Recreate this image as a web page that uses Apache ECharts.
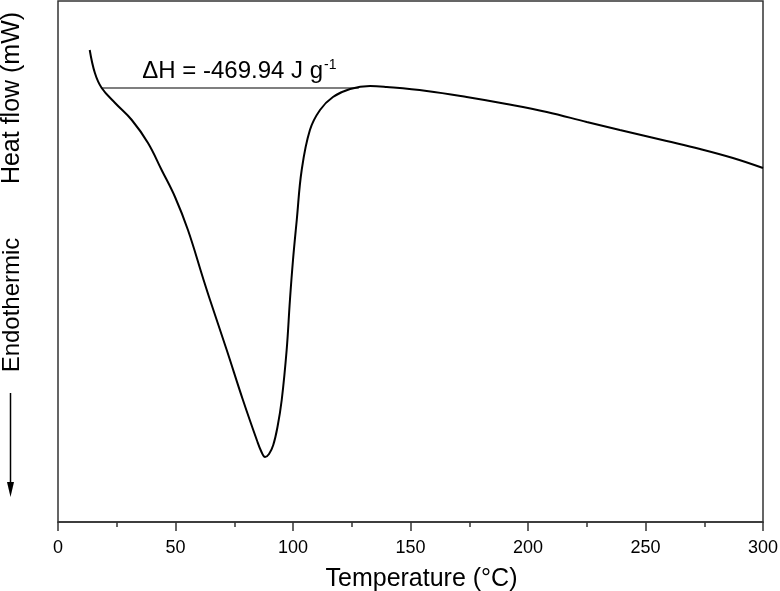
<!DOCTYPE html>
<html lang="en">
<head>
<meta charset="UTF-8">
<title>DSC curve</title>
<style>
    * { margin: 0; padding: 0; }
    #chart { width: 780px; height: 591px; background: #fff; }
</style>
<script src="https://cdn.jsdelivr.net/npm/echarts@6/dist/echarts.min.js"></script>
</head>
<body>
<div id="chart"></div>
<script>
// temperature (°C) and heat flow (arbitrary mW scale)
var temps = [13.5, 15.7, 18.6, 24.3, 31.4, 38.3, 44.1, 49.8, 55.3, 61.7, 64.7, 71.8, 78.7, 84.6,
    86.6, 88.1, 89.8, 91.6, 93.4, 95.2, 97.3, 98.7, 100.0, 101.6, 103.7, 107.2, 111.5, 117.0, 124.3, 132.8, 139.9,
    156.9, 173.9, 190.9, 208.0, 225.0, 239.1, 259.0, 273.2, 287.2, 300];
var heatFlow = [4.72, 4.49, 4.34, 4.19, 4.02, 3.79, 3.52, 3.25, 2.92, 2.44, 2.22, 1.72, 1.22, 0.82,
    0.70, 0.65, 0.68, 0.77, 0.95, 1.22, 1.72, 2.22, 2.62, 3.02, 3.52, 3.92, 4.12, 4.25, 4.33, 4.36, 4.35,
    4.31, 4.25, 4.18, 4.10, 4.00, 3.92, 3.81, 3.73, 3.64, 3.54];
// integration baseline
var baseX = [18.6, 128];
var baseY = [4.34, 4.34];
var xTicks = [0, 50, 100, 150, 200, 250, 300];
var enthalpy = '-469.94';

var font = 'Liberation Sans, Arial, sans-serif';
var chart = echarts.init(document.getElementById('chart'));

var curve = temps.map(function (t, i) { return [t, heatFlow[i]]; });
var baseline = baseX.map(function (t, i) { return [t, baseY[i]]; });

chart.setOption({
    animation: false,
    grid: {
        left: 58, right: 17, top: 1, bottom: 69,
        outerBoundsMode: 'none',
        show: true, borderColor: '#333', borderWidth: 1.5
    },
    xAxis: {
        type: 'value',
        min: xTicks[0], max: xTicks[xTicks.length - 1], interval: 50,
        name: 'Temperature (°C)',
        nameLocation: 'middle',
        nameGap: 45,
        nameTextStyle: { fontFamily: font, fontSize: 25, color: '#000', padding: [0, 0, 0, 22] },
        axisLine: { lineStyle: { color: '#333', width: 1.5 } },
        axisTick: { length: 9, lineStyle: { color: '#333', width: 1.5 } },
        minorTick: { show: true, splitNumber: 2, length: 5, lineStyle: { color: '#333', width: 1.5 } },
        axisLabel: { fontFamily: font, fontSize: 18, color: '#000', margin: 17 },
        splitLine: { show: false }
    },
    yAxis: {
        type: 'value', min: 0, max: 5.21,
        axisLine: { show: false }, axisTick: { show: false },
        axisLabel: { show: false }, splitLine: { show: false }
    },
    graphic: [
        { type: 'text', x: 12, y: 98, rotation: Math.PI / 2,
          style: { text: 'Heat flow (mW)', font: '25px ' + font, fill: '#000', align: 'center', verticalAlign: 'middle' } },
        { type: 'text', x: 12, y: 305, rotation: Math.PI / 2,
          style: { text: 'Endothermic', font: '24px ' + font, fill: '#000', align: 'center', verticalAlign: 'middle' } },
        { type: 'line', shape: { x1: 10.5, y1: 393, x2: 10.5, y2: 485 }, style: { stroke: '#000', lineWidth: 1.5 } },
        { type: 'polygon', shape: { points: [[7, 482], [14, 482], [10.5, 497]] }, style: { fill: '#000' } }
    ],
    series: [{
        type: 'line',
        data: curve,
        smooth: 0.4,
        symbol: 'none',
        lineStyle: { color: '#000', width: 2 }
    }, {
        type: 'line',
        data: baseline,
        symbol: 'none',
        lineStyle: { color: '#000', width: 1.2 },
        markPoint: {
            symbol: 'circle', symbolSize: 0,
            data: [{ coord: [77.2, baseY[0]] }],
            label: {
                show: true, position: 'inside', offset: [0, -17],
                formatter: '{a|\u0394H = ' + enthalpy + ' J g}{s|-1}',
                rich: {
                    a: { fontFamily: font, fontSize: 24, color: '#000' },
                    s: { fontFamily: font, fontSize: 14, color: '#000', padding: [0, 0, 12, 1] }
                }
            }
        }
    }]
});
</script>
</body>
</html>
